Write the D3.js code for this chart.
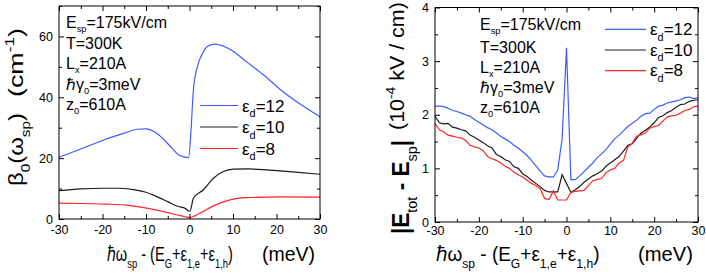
<!DOCTYPE html>
<html>
<head>
<meta charset="utf-8">
<script src="https://cdn.jsdelivr.net/npm/d3@7"></script>
<style>
body { margin: 0; background: #fff; }
text { font-family: "Liberation Sans", Arial, Helvetica, sans-serif; white-space: pre; }
</style>
</head>
<body>
<svg id="chart" width="706" height="278"></svg>
<script>
// left panel: beta_0 (cm^-1), smooth curves as [detuning, value]
const leftBlue = [[-30,20.3],[-25,23.0],[-20,25.8],[-15,28.2],[-12,29.5],[-10,29.6],[-8,28.6],[-6,26.3],[-4,23.2],[-2.5,21.1],[-1.3,20.4],[-0.2,20.2],[0.3,28],[0.9,42.5],[1.8,50],[3,54.5],[4.2,56.8],[5.8,57.5],[7.5,57],[9.5,55.6],[13,51.8],[17,47.4],[21,42.4],[25,38.2],[30,33.6]];
const leftBlack = [[-30,9.3],[-25,9.9],[-20,10.1],[-16,10.1],[-12.5,9.6],[-10,8.8],[-7.9,7.6],[-5,5.7],[-2.6,4.1],[-1,3.5],[-0.3,2.7],[0.1,2.6],[0.9,6.8],[3.2,9.6],[5.5,13.4],[7.8,15.6],[10.1,16.4],[13.2,16.5],[17,16.2],[20.8,15.8],[25,15.3],[30,14.7]];
const leftRed = [[-30,5.2],[-25,5.1],[-19.4,4.9],[-14,4.5],[-9.5,3.5],[-5,2.1],[-1.8,1.0],[-0.2,0.55],[0.1,0.55],[2.4,1.9],[5.5,4.3],[9.3,6.3],[13.2,7.0],[20.8,7.3],[30,7.2]];

// right panel: |E_tot - E_sp| (1e-4 kV/cm), sampled every 1 meV
const rightX = [-30,-29,-28,-27,-26,-25,-24,-23,-22,-21,-20,-19,-18,-17,-16,-15,-14,-13,-12,-11,-10,-9,-8,-7,-6,-5,-4,-3,-2,-1,0,1,2,3,4,5,6,7,8,9,10,11,12,13,14,15,16,17,18,19,20,21,22,23,24,25,26,27,28,29,30];
const rightBlue = [2.16,2.16,2.15,2.12,2.08,2.06,2.03,2.00,1.97,1.91,1.86,1.81,1.76,1.72,1.66,1.60,1.55,1.50,1.43,1.38,1.31,1.24,1.15,1.05,0.95,0.86,0.84,0.84,0.97,1.55,3.25,0.79,0.79,0.86,0.94,1.02,1.10,1.20,1.27,1.35,1.45,1.55,1.62,1.70,1.78,1.84,1.90,1.97,2.02,2.03,2.10,2.16,2.18,2.22,2.24,2.26,2.28,2.32,2.33,2.30,2.32];
const rightBlack = [1.97,1.85,1.83,1.84,1.77,1.75,1.72,1.70,1.62,1.58,1.53,1.48,1.42,1.38,1.26,1.22,1.16,1.13,1.03,1.00,0.90,0.85,0.78,0.72,0.66,0.59,0.56,0.56,0.56,0.88,0.72,0.55,0.60,0.66,0.74,0.80,0.86,0.90,0.95,1.04,1.10,1.16,1.22,1.32,1.43,1.46,1.56,1.66,1.71,1.77,1.85,1.95,1.98,2.04,2.08,2.14,2.19,2.20,2.25,2.27,2.28];
const rightRed = [1.84,1.72,1.68,1.62,1.60,1.58,1.57,1.52,1.43,1.40,1.38,1.33,1.22,1.18,1.15,1.10,1.04,1.00,0.93,0.88,0.84,0.78,0.72,0.68,0.62,0.44,0.42,0.58,0.41,0.41,0.41,0.55,0.57,0.58,0.59,0.68,0.77,0.79,0.81,0.92,0.97,1.00,1.10,1.15,1.40,1.47,1.60,1.63,1.66,1.75,1.78,1.80,1.88,1.96,1.98,1.99,2.03,2.08,2.10,2.15,2.16];

const legendLabels = ["12", "10", "8"];
const xTicks = [-30, -20, -10, 0, 10, 20, 30];
const xMinor = [-25, -15, -5, 5, 15, 25];
const leftYTicks = [0, 20, 40, 60];
const leftYMinor = [10, 30, 50, 70];
const rightYTicks = [0, 1, 2, 3, 4];
const rightYMinor = [0.5, 1.5, 2.5, 3.5];
const notes = [[["E"],["sp","sub"],["=175kV/cm"]],[["T=300K"]],[["L"],["x","sub"],["=210A"]],[["ℏγ"],["0","sub"],["=3meV"]],[["z"],["0","sub"],["=610A"]]];

const colors = ["#3d5cff", "#1c1c1c", "#ff2424"];
const svg = d3.select("#chart");

function richText(parent, parts, size, subScale, subShift) {
    const t = parent.append("text").attr("font-size", size);
    let shift = 0;
    parts.forEach(([s, kind]) => {
        const target = kind === "sub" ? size * (subShift || 0.34) : kind === "sup" ? -size * 0.42 : 0;
        const ts = t.append("tspan").attr("dy", target - shift).text(s);
        if (kind === "sub" || kind === "sup") ts.attr("font-size", size * (subScale || 0.64));
        if (kind === "bold") ts.attr("font-weight", "bold");
        shift = target;
    });
    return t;
}

function fitH(parts, size, x0, x1, base) {
    const t = richText(svg, parts, size);
    const w = t.node().getComputedTextLength();
    t.attr("transform", `translate(${x0},${base}) scale(${(x1 - x0) / w},1)`);
}

function fitV(parts, size, bx, y0, y1) {
    const t = richText(svg, parts, size);
    const w = t.node().getComputedTextLength();
    t.attr("transform", `translate(${bx},${y0}) rotate(-90) scale(${(y0 - y1) / w},1)`);
}

function axes(x, y, yMajor, yMinor, xPad, yPad) {
    const [x0, x1] = x.range();
    const [yb, yt] = y.range();
    const clean = g => {
        g.select(".domain").remove();
        g.selectAll("line").attr("stroke", "#000");
        g.selectAll("text").attr("font-size", 12.5).attr("font-family", null).attr("fill", "#000");
    };
    const fmt = d => String(d);
    svg.append("g").attr("transform", `translate(0,${yb})`)
        .call(d3.axisBottom(x).tickValues(xTicks).tickSize(-5).tickPadding(xPad).tickFormat(fmt)).call(clean);
    svg.append("g").attr("transform", `translate(0,${yb})`)
        .call(d3.axisBottom(x).tickValues(xMinor).tickSize(-3).tickFormat("")).call(clean);
    svg.append("g").attr("transform", `translate(0,${yt})`)
        .call(d3.axisTop(x).tickValues(xTicks).tickSize(-5).tickFormat("")).call(clean);
    svg.append("g").attr("transform", `translate(0,${yt})`)
        .call(d3.axisTop(x).tickValues(xMinor).tickSize(-3).tickFormat("")).call(clean);
    svg.append("g").attr("transform", `translate(${x0},0)`)
        .call(d3.axisLeft(y).tickValues(yMajor).tickSize(-5).tickPadding(yPad).tickFormat(fmt)).call(clean);
    svg.append("g").attr("transform", `translate(${x0},0)`)
        .call(d3.axisLeft(y).tickValues(yMinor).tickSize(-3).tickFormat("")).call(clean);
    svg.append("g").attr("transform", `translate(${x1},0)`)
        .call(d3.axisRight(y).tickValues(yMajor).tickSize(-5).tickFormat("")).call(clean);
    svg.append("g").attr("transform", `translate(${x1},0)`)
        .call(d3.axisRight(y).tickValues(yMinor).tickSize(-3).tickFormat("")).call(clean);
    svg.append("rect").attr("x", x0).attr("y", yt).attr("width", x1 - x0).attr("height", yb - yt)
        .attr("fill", "none").attr("stroke", "#000").attr("stroke-width", 1);
}

// ---- left panel
const xL = d3.scaleLinear().domain([-30, 30]).range([59, 320]);
const yL = d3.scaleLinear().domain([0, 70]).range([219, 6]);
const lineL = d3.line().x(d => xL(d[0])).y(d => yL(d[1])).curve(d3.curveMonotoneX);
[leftBlue, leftBlack, leftRed].forEach((s, i) => {
    svg.append("path").attr("d", lineL(s)).attr("fill", "none")
        .attr("stroke", colors[i]).attr("stroke-width", 1.2);
});
axes(xL, yL, leftYTicks, leftYMinor, 6, 6);

notes.forEach((parts, i) => {
    richText(svg, parts, 16, 0.58, 0.26).attr("x", 66).attr("y", 28 + i * 20.5);
});
legendLabels.forEach((lab, i) => {
    const yy = 105.5 + i * 21.5;
    svg.append("line").attr("x1", 200).attr("x2", 238).attr("y1", yy).attr("y2", yy)
        .attr("stroke", colors[i]).attr("stroke-width", 1.2);
    richText(svg, [["ε"], ["d", "sub"], ["=" + lab]], 17).attr("x", 242).attr("y", yy + 6);
});

fitH([["ℏω"], ["sp", "sub"], [" - (E"], ["G", "sub"], ["+ε"], ["1,e", "sub"], ["+ε"], ["1,h", "sub"], [")"]], 21, 107, 233, 261);
fitH([["(meV)"]], 21, 262, 315, 261);
fitV([["β"], ["0", "sub"], ["(ω"], ["sp", "sub"], [")"]], 21, 23, 186, 113);
fitV([["(cm"], ["-1", "sup"], [")"]], 21, 23, 97, 28);

// ---- right panel
const xR = d3.scaleLinear().domain([-30, 30]).range([435, 698]);
const yR = d3.scaleLinear().domain([0, 4]).range([222, 7.5]);
const lineR = d3.line().x((d, i) => xR(rightX[i])).y(d => yR(d));
[rightBlue, rightBlack, rightRed].forEach((s, i) => {
    svg.append("path").attr("d", lineR(s)).attr("fill", "none")
        .attr("stroke", colors[i]).attr("stroke-width", 1.2);
});
axes(xR, yR, rightYTicks, rightYMinor, 4, 6);

notes.forEach((parts, i) => {
    richText(svg, parts, 16, 0.58, 0.26).attr("x", 480).attr("y", i === 0 ? 30 : 33 + i * 20);
});
legendLabels.forEach((lab, i) => {
    const yy = 29.3 + i * 20.7;
    svg.append("line").attr("x1", 605).attr("x2", 646).attr("y1", yy).attr("y2", yy)
        .attr("stroke", colors[i]).attr("stroke-width", 1.2);
    richText(svg, [["ε"], ["d", "sub"], ["=" + lab]], 17).attr("x", 650).attr("y", yy + 5.5);
});

fitH([["ℏω"], ["sp", "sub"], [" - (E"], ["G", "sub"], ["+ε"], ["1,e", "sub"], ["+ε"], ["1,h", "sub"], [")"]], 21, 436, 600, 261);
fitH([["(meV)"]], 21, 638, 693, 261);
fitV([["|E", "bold"], ["tot", "sub"], [" - E", "bold"], ["sp", "sub"], ["|", "bold"]], 23, 409, 234, 140);
fitV([["(10"], ["-4", "sup"], [" kV / cm)"]], 21, 404, 130, 2);
</script>
</body>
</html>
